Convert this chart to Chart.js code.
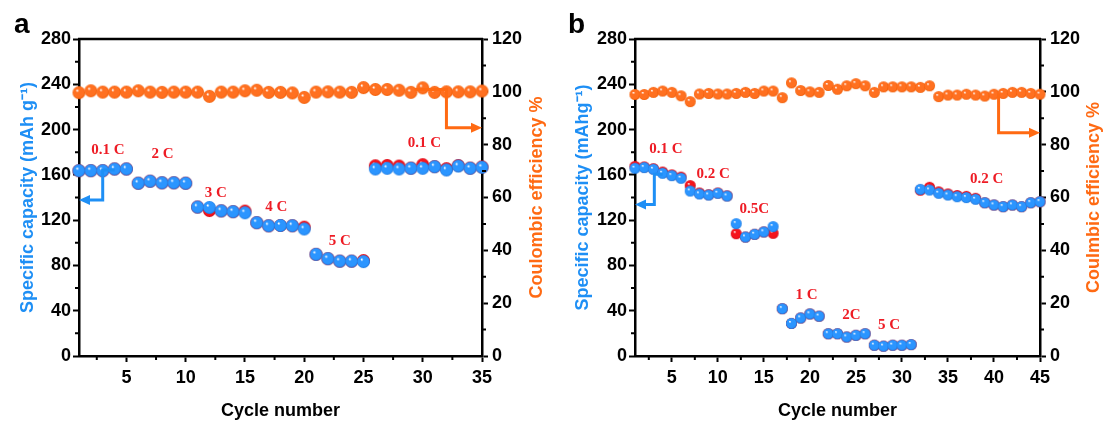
<!DOCTYPE html>
<html>
<head>
<meta charset="utf-8">
<script src="https://cdn.jsdelivr.net/npm/chart.js@4.4.1/dist/chart.umd.min.js"></script>
<style>
  body { margin: 0; background: #fff; width: 1105px; height: 425px; overflow: hidden; position: relative; }
  canvas { position: absolute; top: 0; }
  #ca { left: 0; }
  #cb { left: 555px; }
</style>
</head>
<body>
<canvas id="ca" width="552" height="425"></canvas>
<canvas id="cb" width="550" height="425"></canvas>
<script>
// panel a: 35 cycles
const capA = [163.7, 163.7, 163.7, 165.2, 165.2,
  152.6, 154.4, 153, 153, 152.6,
  131.6, 131.2, 128.2, 127.5, 126.5,
  117.8, 115, 115.3, 115.1, 112.2,
  89.8, 86, 83.8, 83.8, 83.4,
  165.2, 165.8, 165.2, 165.8, 165.8, 167.2, 164.3, 167.8, 165.8, 166.7];
const disA = [163.7, 163.7, 163.7, 165.2, 165.2,
  152.6, 154.4, 153, 153, 152.6,
  131.6, 128.5, 128.2, 127.5, 128,
  117.8, 115, 115.3, 115.1, 113.8,
  89.8, 86, 83.8, 83.8, 84.3,
  168, 168.3, 167.8, 166, 169, 167.3, 165.5, 168.3, 166, 167];
const ceA = [99.7, 100.4, 99.9, 99.9, 99.9, 100.4, 99.9, 99.8, 99.9, 99.9,
  99.9, 98.3, 99.9, 99.9, 100.4, 100.6, 99.8, 99.8, 99.6, 97.9,
  99.9, 100, 99.9, 99.8, 101.6, 100.9, 100.9, 100.6, 99.8, 101.5,
  99.8, 100, 100, 100, 100.3];

// panel b: 45 cycles
const capB = [165.8, 166.4, 164.9, 161.4, 159.3, 157,
  145.7, 143.1, 142.2, 143.7, 141.3,
  116.9, 105.1, 107.5, 109.6, 114.3,
  41.8, 28.8, 33.6, 37.2, 35.2,
  19.7, 19.7, 16.8, 18.3, 19.7,
  9.5, 8.7, 9.5, 9.5, 10.1,
  147.2, 146.6, 143.7, 142.2, 140.7, 139.9, 138.4, 135.4, 133.4, 131.9, 133.4, 131.9, 135.4, 136.3];
const disB = [167.5, 167, 165.5, 162.5, 160, 158,
  150.5, 144, 142.5, 144, 141.5,
  108, 105.1, 107.5, 109.6, 108.4,
  41.8, 28.8, 33.6, 37.2, 35.2,
  19.7, 19.7, 16.8, 18.3, 19.7,
  9.5, 8.7, 9.5, 9.5, 10.1,
  146.5, 149, 145, 143.2, 141.8, 141, 139.3, 135.4, 133.4, 131.9, 133.4, 131.9, 135.4, 136.3];
const ceB = [99.0, 99.0, 99.8, 100.3, 99.8, 98.5, 96.3, 99.2, 99.4, 99.2,
  99.2, 99.4, 99.8, 99.4, 100.3, 100.3, 97.8, 103.4, 100.5, 100,
  99.8, 102.4, 101, 102.3, 103.1, 102.3, 99.8, 101.9, 101.9, 101.9,
  101.9, 101.7, 102.3, 98.2, 98.8, 98.8, 99.1, 98.8, 98.4, 99.1,
  99.4, 99.8, 99.8, 99.4, 99.1];

const xTicksA = [5, 10, 15, 20, 25, 30, 35];
const xTicksB = [5, 10, 15, 20, 25, 30, 35, 40, 45];

// rate labels: text, cycle, capacity
const ratesA = [['0.1 C', 3.45, 182], ['2 C', 8.05, 178.4], ['3 C', 12.55, 144.2],
  ['4 C', 17.65, 131.4], ['5 C', 23, 101.8], ['0.1 C', 30.15, 187.9]];
const ratesB = [['0.1 C', 4.35, 182.8], ['0.2 C', 9.5, 160.8], ['0.5C', 13.95, 129.6],
  ['1 C', 19.65, 53.9], ['2C', 24.5, 35.8], ['5 C', 28.6, 27], ['0.2 C', 39.2, 156.1]];

const BLUE = '#1e8ff5', ORANGE = '#ff6a13', RED = '#ee1c25';
Chart.defaults.font.family = 'Arial, "Liberation Sans", sans-serif';

function ball(d, mid, dark) {
  const c = document.createElement('canvas');
  c.width = c.height = d + 2;
  const g = c.getContext('2d');
  const r = d / 2, m = (d + 2) / 2;
  const grad = g.createRadialGradient(m - r * 0.3, m - r * 0.35, r * 0.05, m, m, r);
  grad.addColorStop(0, '#ffffff');
  grad.addColorStop(0.22, mid);
  grad.addColorStop(0.8, mid);
  grad.addColorStop(1, dark);
  g.fillStyle = grad;
  g.beginPath(); g.arc(m, m, r, 0, Math.PI * 2); g.fill();
  return c;
}

function arrow(ctx, pts, color) {
  const n = pts.length;
  const [tx, ty] = pts[n - 1], [px, py] = pts[n - 2];
  const ang = Math.atan2(ty - py, tx - px), L = 11, W = 5;
  const bx = tx - L * Math.cos(ang), by = ty - L * Math.sin(ang);
  ctx.strokeStyle = color; ctx.fillStyle = color; ctx.lineWidth = 3;
  ctx.lineJoin = 'miter';
  ctx.beginPath();
  ctx.moveTo(pts[0][0], pts[0][1]);
  for (let i = 1; i < n - 1; i++) ctx.lineTo(pts[i][0], pts[i][1]);
  ctx.lineTo(bx, by);
  ctx.stroke();
  ctx.beginPath();
  ctx.moveTo(tx, ty);
  ctx.lineTo(bx - W * Math.sin(ang), by + W * Math.cos(ang));
  ctx.lineTo(bx + W * Math.sin(ang), by - W * Math.cos(ang));
  ctx.closePath(); ctx.fill();
}

const deco = {
  id: 'deco',
  afterDatasetsDraw(chart, args, o) {
    const ctx = chart.ctx, a = chart.chartArea;
    const x = chart.scales.x, y = chart.scales.y, y2 = chart.scales.y2;
    ctx.save();
    ctx.strokeStyle = '#000';
    ctx.lineWidth = 2.5;
    ctx.beginPath(); ctx.moveTo(a.left - 1, a.top); ctx.lineTo(a.right + 1, a.top); ctx.stroke();
    // minor ticks
    ctx.lineWidth = 2;
    ctx.beginPath();
    for (let v = 20; v < 280; v += 40) {
      const p = y.getPixelForValue(v); ctx.moveTo(a.left, p); ctx.lineTo(a.left - 4, p);
    }
    for (let v = 10; v < 120; v += 20) {
      const p = y2.getPixelForValue(v); ctx.moveTo(a.right, p); ctx.lineTo(a.right + 4, p);
    }
    for (let v = 2.5; v < x.max; v += 5) {
      const p = x.getPixelForValue(v); ctx.moveTo(p, a.bottom); ctx.lineTo(p, a.bottom + 4);
    }
    ctx.stroke();
    // rate labels
    ctx.font = 'bold 15px "Times New Roman", "Liberation Serif", serif';
    ctx.fillStyle = RED; ctx.textAlign = 'center'; ctx.textBaseline = 'middle';
    o.rates.forEach(r => ctx.fillText(r[0], x.getPixelForValue(r[1]), y.getPixelForValue(r[2])));
    // arrows
    arrow(ctx, o.blueArrow.map(p => [x.getPixelForValue(p[0]), y.getPixelForValue(p[1])]), BLUE);
    arrow(ctx, o.orangeArrow.map(p => [x.getPixelForValue(p[0]), y2.getPixelForValue(p[1])]), ORANGE);
    // right axis title, reading bottom to top
    ctx.save();
    ctx.translate(chart.width - o.rightGap, (a.top + a.bottom) / 2);
    ctx.rotate(-Math.PI / 2);
    ctx.font = 'bold 18px Arial, "Liberation Sans", sans-serif';
    ctx.fillStyle = ORANGE;
    ctx.fillText(o.rightTitle, 0, 0);
    ctx.restore();
    // panel letter
    ctx.font = 'bold 28px Arial, "Liberation Sans", sans-serif';
    ctx.fillStyle = '#000'; ctx.textAlign = 'left'; ctx.textBaseline = 'alphabetic';
    ctx.fillText(o.letter, o.letterX, 33);
    ctx.restore();
  }
};

function makeChart(id, p) {
  const cyc = p.cap.map((_, i) => i + 1);
  const pts = arr => arr.map((v, i) => ({x: cyc[i], y: v}));
  const big = p.ball;
  return new Chart(document.getElementById(id), {
    type: 'scatter',
    data: {
      datasets: [
        {data: pts(p.cap), yAxisID: 'y', pointStyle: ball(big, '#2b95ff', '#1a78e0'), pointRadius: big / 2, clip: false},
        {data: pts(p.dis), yAxisID: 'y', pointStyle: ball(big, '#f5141c', '#d00010'), pointRadius: big / 2, clip: false},
        {data: pts(p.ce), yAxisID: 'y2', pointStyle: ball(big, '#ff7020', '#f05a00'), pointRadius: big / 2, clip: false}
      ]
    },
    options: {
      responsive: false,
      animation: false,
      events: [],
      layout: {padding: {top: 39, left: 0, right: 0, bottom: 0}},
      plugins: {
        legend: {display: false},
        tooltip: {enabled: false},
        deco: {rates: p.rates, blueArrow: p.blueArrow, orangeArrow: p.orangeArrow,
          rightTitle: p.rightTitle, rightGap: p.rightGap, letter: p.letter, letterX: p.letterX}
      },
      scales: {
        x: {
          type: 'linear', min: 1, max: p.xMax,
          afterBuildTicks: s => { s.ticks = p.xTicks.map(v => ({value: v})); },
          afterFit: s => { s.height = 69; },
          border: {display: true, color: '#000', width: 2.5},
          grid: {drawOnChartArea: false, tickLength: 6, tickWidth: 2, tickColor: '#000'},
          ticks: {color: '#000', padding: 5, maxRotation: 0, font: {size: 18, weight: 'bold'}},
          title: {display: true, text: 'Cycle number', color: '#000', padding: {top: 0, bottom: 3},
            font: {size: 18, weight: 'bold'}}
        },
        y: {
          position: 'left', min: 0, max: 280,
          afterFit: s => { s.width = p.leftW; },
          border: {display: true, color: '#000', width: 2.5},
          grid: {drawOnChartArea: false, tickLength: 6, tickWidth: 2, tickColor: '#000'},
          ticks: {stepSize: 40, color: '#000', padding: 2, font: {size: 18, weight: 'bold'}},
          title: {display: true, text: p.leftTitle, color: BLUE, padding: {top: 17, bottom: 0},
            font: {size: 18, weight: 'bold'}}
        },
        y2: {
          position: 'right', min: 0, max: 120,
          afterFit: s => { s.width = p.rightW; },
          border: {display: true, color: '#000', width: 2.5},
          grid: {drawOnChartArea: false, tickLength: 6, tickWidth: 2, tickColor: '#000'},
          ticks: {stepSize: 20, color: '#000', padding: 4, font: {size: 18, weight: 'bold'}}
        }
      }
    },
    plugins: [deco]
  });
}

makeChart('ca', {
  cap: capA, dis: disA, ce: ceA, xMax: 35, xTicks: xTicksA, rates: ratesA, ball: 13,
  leftW: 79, rightW: 70,
  leftTitle: 'Specific capacity (mAh g\u207B\u00B9)', rightTitle: 'Coulombic efficiency %', rightGap: 14.5,
  blueArrow: [[4, 164.3], [3, 164.3], [3, 137.8], [1, 137.8]],
  orangeArrow: [[29.3, 100.9], [32, 100.9], [32, 86.4], [35, 86.4]],
  letter: 'a', letterX: 14
});

makeChart('cb', {
  cap: capB, dis: disB, ce: ceB, xMax: 45, xTicks: xTicksB, rates: ratesB, ball: 11,
  leftW: 80, rightW: 65,
  leftTitle: 'Specific capacity (mAhg\u207B\u00B9)', rightTitle: 'Coulmbic efficiency %', rightGap: 11,
  blueArrow: [[4, 160.5], [3.1, 160.5], [3.1, 133.8], [1, 133.8]],
  orangeArrow: [[40.5, 99.4], [40.5, 84.5], [45, 84.5]],
  letter: 'b', letterX: 13
});
</script>
</body>
</html>
